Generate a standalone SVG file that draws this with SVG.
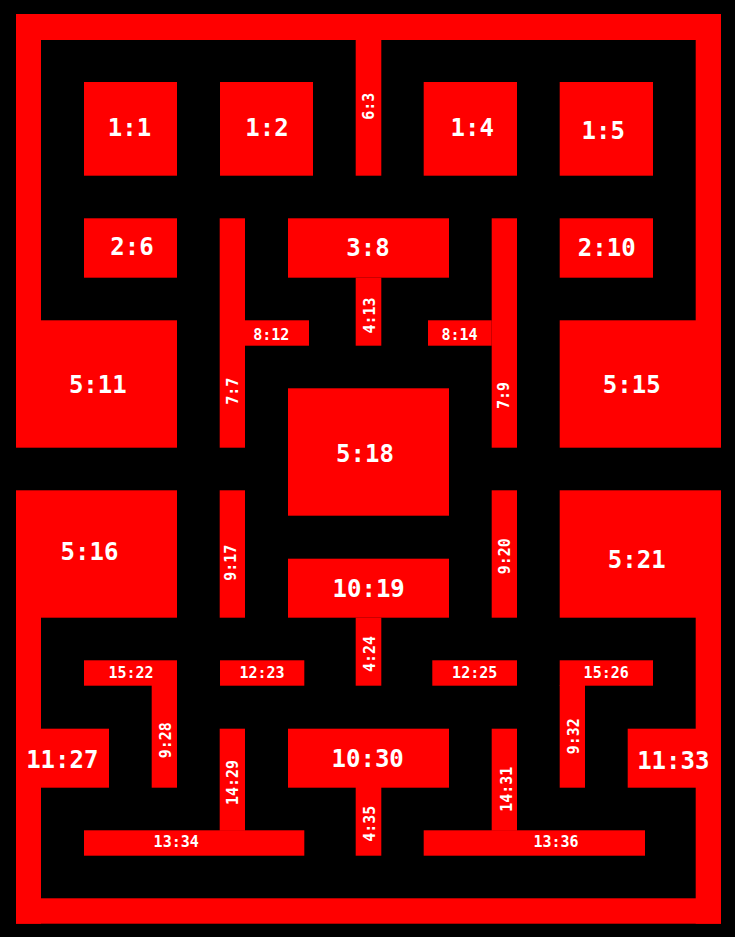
<svg xmlns="http://www.w3.org/2000/svg" width="735" height="937" viewBox="0 0 735 937">
<style>
rect.w{fill:#ff0000}
text{fill:#ffffff;font-family:"DejaVu Sans Mono","Liberation Mono",monospace;font-weight:bold;text-anchor:middle}
text.b{font-size:24px}
text.s{font-size:15px}
</style>
<rect x="0" y="0" width="735" height="937" fill="#000000"/>
<g id="walls">
<rect class="w" x="16" y="14" width="705" height="26"/>
<rect class="w" x="16" y="14" width="25" height="307"/>
<rect class="w" x="695.7" y="14" width="25.3" height="307"/>
<rect class="w" x="16" y="617" width="25" height="306.7"/>
<rect class="w" x="695.7" y="617" width="25.3" height="306.7"/>
<rect class="w" x="16" y="898.3" width="705" height="25.4"/>
</g>
<g id="n1_1"><rect class="w" x="84" y="82" width="93" height="93.7"/><text class="b" x="129.5" y="136.3">1:1</text></g>
<g id="n1_2"><rect class="w" x="220" y="82" width="93" height="93.7"/><text class="b" x="267" y="136.3">1:2</text></g>
<g id="n6_3"><rect class="w" x="355.7" y="40" width="25.6" height="135.7"/><text class="s" transform="translate(368.8,106.2) rotate(-90)" x="0" y="5.5">6:3</text></g>
<g id="n1_4"><rect class="w" x="423.7" y="82" width="93.3" height="93.7"/><text class="b" x="472.3" y="136.3">1:4</text></g>
<g id="n1_5"><rect class="w" x="559.7" y="82" width="93.3" height="93.7"/><text class="b" x="603.2" y="138.8">1:5</text></g>
<g id="n2_6"><rect class="w" x="84" y="218.3" width="93" height="59.4"/><text class="b" x="132" y="255.3">2:6</text></g>
<g id="n7_7"><rect class="w" x="219.7" y="218.3" width="25.3" height="229.4"/><text class="s" transform="translate(232.5,391.2) rotate(-90)" x="0" y="5.5">7:7</text></g>
<g id="n3_8"><rect class="w" x="288" y="218.3" width="161" height="59.4"/><text class="b" x="368" y="255.8">3:8</text></g>
<g id="n7_9"><rect class="w" x="491.7" y="218.3" width="25.3" height="229.4"/><text class="s" transform="translate(503.5,395.5) rotate(-90)" x="0" y="5.5">7:9</text></g>
<g id="n2_10"><rect class="w" x="559.7" y="218.3" width="93.3" height="59.4"/><text class="b" x="606.7" y="255.8">2:10</text></g>
<g id="n5_11"><rect class="w" x="16" y="320.3" width="161" height="127.4"/><text class="b" x="97.8" y="393">5:11</text></g>
<g id="n8_12"><rect class="w" x="245" y="320.3" width="64" height="25.4"/><text class="s" x="271.3" y="339.8">8:12</text></g>
<g id="n4_13"><rect class="w" x="355.7" y="277.7" width="25.6" height="68"/><text class="s" transform="translate(369.5,315.5) rotate(-90)" x="0" y="5.5">4:13</text></g>
<g id="n8_14"><rect class="w" x="428" y="320.3" width="63.7" height="25.4"/><text class="s" x="459.5" y="339.5">8:14</text></g>
<g id="n5_15"><rect class="w" x="559.7" y="320.3" width="161.3" height="127.4"/><text class="b" x="631.7" y="393">5:15</text></g>
<g id="n5_18"><rect class="w" x="288" y="388.3" width="161" height="127.4"/><text class="b" x="365" y="461.8">5:18</text></g>
<g id="n5_16"><rect class="w" x="16" y="490.3" width="161" height="127.4"/><text class="b" x="89.5" y="560.1">5:16</text></g>
<g id="n9_17"><rect class="w" x="219.7" y="490.3" width="25.3" height="127.4"/><text class="s" transform="translate(230.5,562.8) rotate(-90)" x="0" y="5.5">9:17</text></g>
<g id="n10_19"><rect class="w" x="288" y="558.7" width="161" height="59"/><text class="b" x="368.7" y="597">10:19</text></g>
<g id="n9_20"><rect class="w" x="491.7" y="490.3" width="25.3" height="127.4"/><text class="s" transform="translate(504.2,556.2) rotate(-90)" x="0" y="5.5">9:20</text></g>
<g id="n5_21"><rect class="w" x="559.7" y="490.3" width="161.3" height="127.4"/><text class="b" x="636.7" y="568">5:21</text></g>
<g id="n15_22"><rect class="w" x="84" y="660.3" width="93" height="25.4"/><text class="s" x="131" y="678.3">15:22</text></g>
<g id="n12_23"><rect class="w" x="220" y="660.3" width="84.3" height="25.4"/><text class="s" x="262" y="678.3">12:23</text></g>
<g id="n4_24"><rect class="w" x="355.7" y="617.7" width="25.6" height="68"/><text class="s" transform="translate(369.5,654) rotate(-90)" x="0" y="5.5">4:24</text></g>
<g id="n12_25"><rect class="w" x="432.3" y="660.3" width="84.7" height="25.4"/><text class="s" x="474.7" y="678.3">12:25</text></g>
<g id="n15_26"><rect class="w" x="559.7" y="660.3" width="93.3" height="25.4"/><text class="s" x="606.2" y="678.3">15:26</text></g>
<g id="n11_27"><rect class="w" x="16" y="728.7" width="93" height="59"/><text class="b" x="62.3" y="768">11:27</text></g>
<g id="n9_28"><rect class="w" x="151.7" y="685" width="25.3" height="102.7"/><text class="s" transform="translate(165.5,740.3) rotate(-90)" x="0" y="5.5">9:28</text></g>
<g id="n14_29"><rect class="w" x="219.7" y="728.7" width="25.3" height="102"/><text class="s" transform="translate(232.8,782.5) rotate(-90)" x="0" y="5.5">14:29</text></g>
<g id="n10_30"><rect class="w" x="288" y="728.7" width="161" height="59"/><text class="b" x="367.7" y="767.3">10:30</text></g>
<g id="n14_31"><rect class="w" x="491.7" y="728.7" width="25.3" height="102"/><text class="s" transform="translate(506.2,789.2) rotate(-90)" x="0" y="5.5">14:31</text></g>
<g id="n9_32"><rect class="w" x="559.7" y="685" width="25.3" height="102.7"/><text class="s" transform="translate(573.7,736.2) rotate(-90)" x="0" y="5.5">9:32</text></g>
<g id="n11_33"><rect class="w" x="627.7" y="728.7" width="93.3" height="59"/><text class="b" x="673.3" y="768.6">11:33</text></g>
<g id="n13_34"><rect class="w" x="84" y="830.3" width="220.3" height="25.4"/><text class="s" x="176.2" y="847.2">13:34</text></g>
<g id="n4_35"><rect class="w" x="355.7" y="787" width="25.6" height="68.7"/><text class="s" transform="translate(369.5,823.8) rotate(-90)" x="0" y="5.5">4:35</text></g>
<g id="n13_36"><rect class="w" x="423.7" y="830.3" width="221.3" height="25.4"/><text class="s" x="556" y="847.2">13:36</text></g>
<g id="connectors"></g>
</svg>
